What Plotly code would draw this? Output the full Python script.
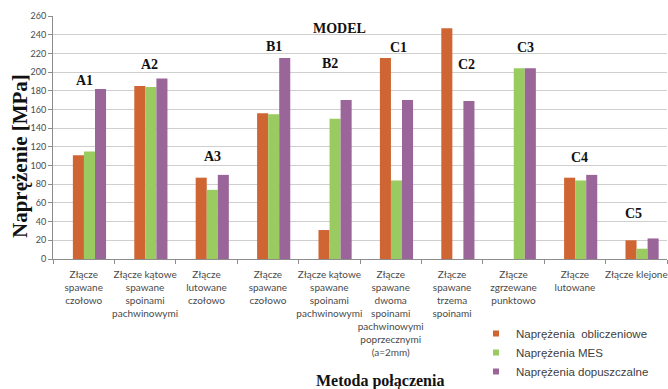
import plotly.graph_objects as go

# Joint models (category keys) and their descriptions shown under the axis
models = ["A1", "A2", "A3", "B1", "B2", "C1", "C2", "C3", "C4", "C5"]
joint_labels = [
    "Złącze<br>spawane<br>czołowo",
    "Złącze kątowe<br>spawane<br>spoinami<br>pachwinowymi",
    "Złącze<br>lutowane<br>czołowo",
    "Złącze<br>spawane<br>czołowo",
    "Złącze kątowe<br>spawane<br>spoinami<br>pachwinowymi",
    "Złącze<br>spawane<br>dwoma<br>spoinami<br>pachwinowymi<br>poprzecznymi<br>(a=2mm)",
    "Złącze<br>spawane<br>trzema<br>spoinami",
    "Złącze<br>zgrzewane<br>punktowo",
    "Złącze<br>lutowane",
    "Złącze klejone",
]

# Stress values [MPa]
calc_stress = [111, 185, 87, 156, 31, 215, 247, 0, 87, 20]
fem_stress = [115, 184, 74, 155, 150, 84, 0, 204, 84, 11]
allow_stress = [182, 193, 90, 215, 170, 170, 169, 204, 90, 22]

series_names = ["Naprężenia\u00a0 obliczeniowe", "Naprężenia MES", "Naprężenia dopuszczalne"]
series_values = [calc_stress, fem_stress, allow_stress]
colors = ["#CF6532", "#9ACB61", "#9A6599"]

# Model tags placed above each group: (text, category index, stress level)
tag_positions = [
    ("A1", 0.01, 191.5), ("A2", 1.07, 207.6), ("A3", 2.09, 109.5),
    ("B1", 3.10, 227.2), ("B2", 4.01, 209.4), ("MODEL", 4.16, 246.8),
    ("C1", 5.12, 226.1), ("C2", 6.23, 208.3), ("C3", 7.19, 226.1),
    ("C4", 8.07, 109.1), ("C5", 8.96, 49.2),
]

BAR_W = 0.18
GROUP_SHIFT = 0.094

fig = go.Figure()
for i, (name, vals, col) in enumerate(zip(series_names, series_values, colors)):
    fig.add_trace(go.Bar(
        x=models, y=vals, name=name,
        marker=dict(color=col, line=dict(width=0)),
        width=BAR_W, offset=GROUP_SHIFT - 1.5 * BAR_W + i * BAR_W,
        showlegend=False,
    ))
    # small square legend swatch
    fig.add_trace(go.Scatter(
        x=[None], y=[None], mode="markers", name=name,
        marker=dict(symbol="square", size=6, color=col),
        showlegend=True,
    ))

annotations = []
for text, xi, yv in tag_positions:
    annotations.append(dict(
        text=f"<b>{text}</b>", x=xi, y=yv, xref="x", yref="y",
        showarrow=False, xanchor="center", yanchor="middle",
        font=dict(family="Liberation Serif", size=14, color="#111111"),
    ))

# axis titles
annotations.append(dict(
    text="<b>Naprężenie [MPa]</b>", x=-0.0537, y=0.424, xref="paper", yref="paper",
    textangle=-90, showarrow=False, xanchor="center", yanchor="middle",
    font=dict(family="Liberation Serif", size=21, color="#111111"),
))
annotations.append(dict(
    text="<b>Metoda połączenia</b>", x=0.5326, y=-0.50, xref="paper", yref="paper",
    showarrow=False, xanchor="center", yanchor="middle",
    font=dict(family="Liberation Serif", size=16, color="#111111"),
))

fig.update_layout(
    width=668, height=389,
    margin=dict(l=53, r=1, t=16, b=130, autoexpand=False),
    paper_bgcolor="white", plot_bgcolor="white",
    barmode="overlay",
    annotations=annotations,
    legend=dict(
        xref="container", yref="container",
        x=0.7126, y=1 - 319 / 389, xanchor="left", yanchor="top",
        font=dict(family="Liberation Sans", size=11.5, color="#404040"),
        bgcolor="rgba(0,0,0,0)", tracegroupgap=0,
    ),
    xaxis=dict(
        type="category", categoryorder="array", categoryarray=models,
        tickvals=models, ticktext=joint_labels,
        tickson="boundaries", ticks="outside", ticklen=4, tickcolor="#8c8c8c",
        showline=True, linecolor="#8c8c8c", linewidth=1,
        showgrid=False, range=[-0.5, 9.5], tickangle=0,
        ticklabelstandoff=6,
        tickfont=dict(family="Lato", size=10, color="#4a4a4a"),
    ),
    yaxis=dict(
        range=[0, 260], tickmode="linear", tick0=0, dtick=20,
        ticks="outside", ticklen=4, tickcolor="#8c8c8c",
        showline=True, linecolor="#8c8c8c", linewidth=1,
        showgrid=True, gridcolor="#cfcfcf", gridwidth=1,
        zeroline=False,
        tickfont=dict(family="Lato", size=9, color="#4a4a4a"),
    ),
)

fig.write_html("out.html")
